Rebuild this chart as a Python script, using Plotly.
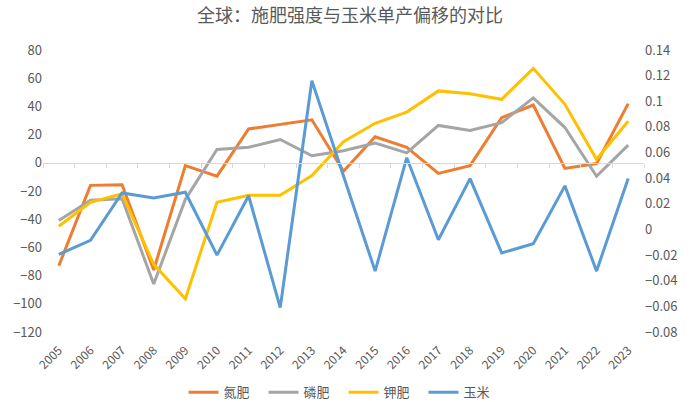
import plotly.graph_objects as go

years = [str(y) for y in range(2005, 2024)]
nitrogen = [-73, -16, -15.5, -76, -2, -9.5, 24, 27.5, 30.5, -6, 18.5, 11, -7.5, -2, 32, 41, -4, -0.5, 42]
phosphate = [-41, -26.5, -25.5, -86, -26, 9.5, 11, 16.5, 5, 8.5, 14, 7, 26.5, 23, 28.5, 46, 25, -9.5, 12.5]
potash = [-45, -28, -22, -72, -96.5, -28, -23, -23, -9, 15, 28, 36, 51, 49, 45, 67, 41.5, 2.5, 29.5]
corn = [-0.0195, -0.0085, 0.0285, 0.0245, 0.029, -0.020, 0.0263, -0.061, 0.116, 0.041, -0.0325,
        0.056, -0.008, 0.0397, -0.0183, -0.0112, 0.034, -0.0325, 0.0397]

left_ticks = [80, 60, 40, 20, 0, -20, -40, -60, -80, -100, -120]
right_ticks = [0.14, 0.12, 0.1, 0.08, 0.06, 0.04, 0.02, 0, -0.02, -0.04, -0.06, -0.08]
right_text = ["0.14", "0.12", "0.1", "0.08", "0.06", "0.04", "0.02", "0",
              "\u22120.02", "\u22120.04", "\u22120.06", "\u22120.08"]

names = ["氮肥", "磷肥", "钾肥", "玉米"]
colors = ["#ED7D31", "#A5A5A5", "#FFC000", "#5B9BD5"]

FONT = "Noto Sans CJK SC"
GREY = "#595959"

fig = go.Figure()
for name, vals, col in zip(names[:3], [nitrogen, phosphate, potash], colors[:3]):
    fig.add_trace(go.Scatter(x=years, y=vals, name=name, mode="lines",
                             line=dict(color=col, width=3), xaxis="x", yaxis="y"))
fig.add_trace(go.Scatter(x=years, y=corn, name=names[3], mode="lines",
                         line=dict(color=colors[3], width=3), xaxis="x", yaxis="y2"))
# helper trace to carry the zero-crossing category axis (invisible)
fig.add_trace(go.Scatter(x=years, y=[0] * len(years), mode="lines", line=dict(width=0),
                         showlegend=False, hoverinfo="skip", xaxis="x2", yaxis="y"))

fig.update_layout(
    width=700, height=402,
    margin=dict(l=43, r=56, t=50, b=70, autoexpand=False),
    paper_bgcolor="white", plot_bgcolor="white",
    font=dict(family=FONT, color=GREY, size=12),
    title=dict(text="全球：施肥强度与玉米单产偏移的对比", x=0.5, xanchor="center",
               y=1 - 16 / 402, yanchor="middle",
               font=dict(family=FONT, size=18, color=GREY)),
    showlegend=True,
    legend=dict(orientation="h", x=0.5, xanchor="center", y=-0.214, yanchor="middle",
                font=dict(family=FONT, size=13, color=GREY), itemwidth=30,
                entrywidth=35, traceorder="normal"),
    xaxis=dict(type="category", range=[-0.5, 18.5], showgrid=False, showline=False,
               ticks="", tickangle=-45, tickfont=dict(size=12, color=GREY),
               ticklabelstandoff=8, zeroline=False),
    xaxis2=dict(type="category", range=[-0.5, 18.5], overlaying="x", anchor="free",
                position=0.6, showgrid=False, showline=True, linecolor="#D9D9D9",
                linewidth=1, ticks="outside", tickson="boundaries", ticklen=4,
                tickcolor="#D9D9D9", showticklabels=False, zeroline=False),
    yaxis=dict(range=[-120, 80], tickvals=left_ticks, showgrid=False, zeroline=False,
               showline=False, ticks="", tickfont=dict(size=13, color=GREY)),
    yaxis2=dict(range=[-0.08, 0.14], overlaying="y", side="right", tickvals=right_ticks,
                ticktext=right_text, showgrid=False, zeroline=False, showline=False,
                ticks="", tickfont=dict(size=13, color=GREY)),
)

fig.write_html("out.html")
